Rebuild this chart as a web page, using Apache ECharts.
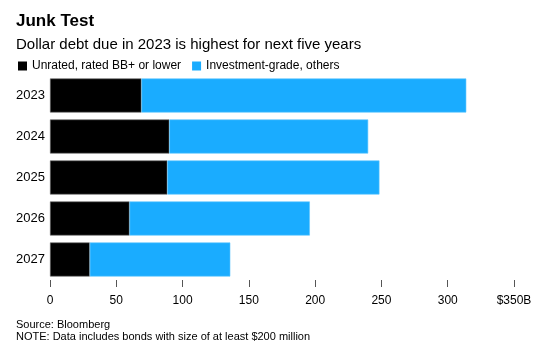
<!DOCTYPE html>
<html>
<head>
<meta charset="utf-8">
<script src="https://cdn.jsdelivr.net/npm/echarts@6/dist/echarts.min.js"></script>
<style>
html,body{margin:0;padding:0;background:#fff;}
#chart{width:540px;height:349px;}
</style>
</head>
<body>
<div id="chart"></div>
<script>
var years = ['2023', '2024', '2025', '2026', '2027'];
var junkValues = [69, 90, 88.5, 60, 30];
var igValues = [245, 150, 160, 136, 106];
var xTicks = [0, 50, 100, 150, 200, 250, 300, 350];
var seriesNames = ['Unrated, rated BB+ or lower', 'Investment-grade, others'];

var FONT = '"Liberation Sans", Arial, Helvetica, sans-serif';
var chart = echarts.init(document.getElementById('chart'));
chart.setOption({
  animation: false,
  backgroundColor: '#ffffff',
  textStyle: { fontFamily: FONT },
  title: [
    { text: 'Junk Test', left: 11, top: 8,
      textStyle: { fontFamily: FONT, fontSize: 17, fontWeight: 'bold', color: '#000' } },
    { text: 'Dollar debt due in 2023 is highest for next five years', left: 11, top: 32,
      textStyle: { fontFamily: FONT, fontSize: 15, fontWeight: 'normal', color: '#000' } },
    { text: 'Source: Bloomberg\nNOTE: Data includes bonds with size of at least $200 million', left: 11, top: 314,
      textStyle: { fontFamily: FONT, fontSize: 11, fontWeight: 'normal', color: '#000', lineHeight: 12 } }
  ],
  legend: {
    left: 13, top: 55,
    itemWidth: 9, itemHeight: 9, itemGap: 11,
    icon: 'rect',
    itemStyle: { borderWidth: 0 },
    textStyle: { fontFamily: FONT, fontSize: 12, color: '#000' },
    data: seriesNames
  },
  grid: { left: 50, right: 26, top: 75, bottom: 69, containLabel: false },
  xAxis: {
    type: 'value', min: 0, max: 350, interval: 50,
    axisLine: { show: false },
    axisTick: { show: true, length: 7, lineStyle: { color: '#555', width: 1 } },
    splitLine: { show: false },
    axisLabel: {
      margin: 15, fontSize: 12, color: '#000', fontFamily: FONT,
      formatter: function (v) { return v === 350 ? '$350B' : String(v); }
    }
  },
  yAxis: {
    type: 'category', data: years, inverse: true,
    axisLine: { show: false }, axisTick: { show: false },
    axisLabel: { margin: 5, fontSize: 13, color: '#000', fontFamily: FONT }
  },
  series: [
    { name: seriesNames[0], type: 'bar', stack: 'total', data: junkValues,
      barCategoryGap: '17%',
      itemStyle: { color: '#000000', borderColor: '#666', borderWidth: 0.6 } },
    { name: seriesNames[1], type: 'bar', stack: 'total', data: igValues,
      barCategoryGap: '17%',
      itemStyle: { color: '#1AACFF', borderColor: '#5cc6ff', borderWidth: 0.6 } }
  ]
});
</script>
</body>
</html>
